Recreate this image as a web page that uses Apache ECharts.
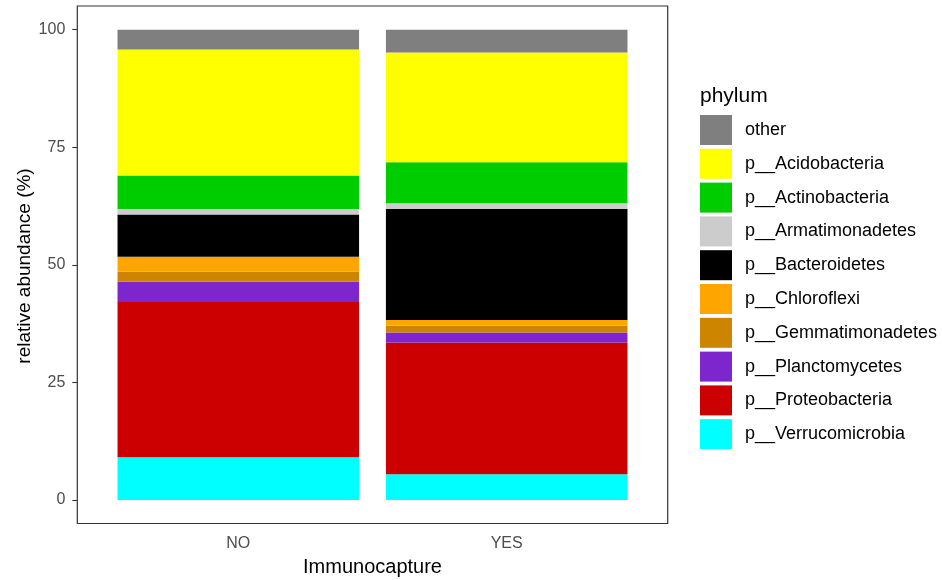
<!DOCTYPE html>
<html>
<head>
<meta charset="utf-8">
<script src="https://cdn.jsdelivr.net/npm/echarts@6/dist/echarts.min.js"></script>
<style>
  html, body { margin: 0; padding: 0; background: #fff; }
  #chart { width: 942px; height: 580px; }
</style>
</head>
<body>
<div id="chart"></div>
<script>
// categories on the x axis
const groups = ["NO", "YES"];

// phyla, bottom of the stack first
const phyla = [
  "p__Verrucomicrobia",
  "p__Proteobacteria",
  "p__Planctomycetes",
  "p__Gemmatimonadetes",
  "p__Chloroflexi",
  "p__Bacteroidetes",
  "p__Armatimonadetes",
  "p__Actinobacteria",
  "p__Acidobacteria",
  "other"
];

// relative abundance (%) per phylum, same order as phyla
const valuesNO = [9.1, 33.0, 4.3, 2.2, 3.1, 9.0, 1.2, 7.1, 26.8, 4.2];
const valuesYES = [5.5, 28.0, 2.1, 1.5, 1.2, 23.6, 1.2, 8.7, 23.35, 4.85];

const phylumColors = {
  "other": "#7F7F7F",
  "p__Acidobacteria": "#FFFF00",
  "p__Actinobacteria": "#00CD00",
  "p__Armatimonadetes": "#CCCCCC",
  "p__Bacteroidetes": "#000000",
  "p__Chloroflexi": "#FFA500",
  "p__Gemmatimonadetes": "#CD8500",
  "p__Planctomycetes": "#7D26CD",
  "p__Proteobacteria": "#CD0000",
  "p__Verrucomicrobia": "#00FFFF"
};

const font = "Liberation Sans, Arial, sans-serif";

const chart = echarts.init(document.getElementById("chart"));

const series = phyla.map((name, i) => ({
  name: name,
  type: "bar",
  stack: "total",
  barWidth: "90%",
  xAxisIndex: 0,
  yAxisIndex: 0,
  itemStyle: { color: phylumColors[name] },
  emphasis: { disabled: true },
  data: [valuesNO[i], valuesYES[i]]
}));

chart.setOption({
  animation: false,
  textStyle: { fontFamily: font },
  grid: [
    // plotting area for the bars
    { left: 104.1, top: 29.7, width: 536.8, height: 470.3 },
    // panel border
    {
      left: 77.3, top: 6, width: 590.4, height: 517.5,
      show: true, borderColor: "#333", borderWidth: 1.2,
      backgroundColor: "transparent"
    }
  ],
  xAxis: [
    {
      type: "category",
      gridIndex: 0,
      data: groups,
      offset: 23.5,
      axisLine: { show: false },
      axisTick: { alignWithLabel: true, length: 5, lineStyle: { color: "#333", width: 1.1 } },
      axisLabel: { color: "#4D4D4D", fontSize: 16, margin: 12, fontFamily: font }
    },
    { type: "value", gridIndex: 1, show: false }
  ],
  yAxis: [
    {
      type: "value",
      gridIndex: 0,
      min: 0,
      max: 100,
      interval: 25,
      offset: 26.8,
      axisLine: { show: false },
      splitLine: { show: false },
      axisTick: { show: true, length: 5, lineStyle: { color: "#333", width: 1.1 } },
      axisLabel: { color: "#4D4D4D", fontSize: 16, margin: 12, fontFamily: font }
    },
    { type: "value", gridIndex: 1, show: false }
  ],
  legend: {
    orient: "vertical",
    left: 700,
    top: 115,
    padding: 0,
    itemWidth: 32,
    itemHeight: 30,
    itemGap: 3.8,
    icon: "rect",
    selectedMode: false,
    data: phyla.slice().reverse(),
    textStyle: { color: "#000", fontSize: 18, fontFamily: font, padding: [0, 0, 0, 8] }
  },
  graphic: [
    {
      type: "text",
      x: 25, y: 266,
      rotation: Math.PI / 2,
      style: {
        text: "relative abundance (%)",
        fontSize: 19, fontFamily: font, fill: "#000",
        textAlign: "center", textVerticalAlign: "middle"
      }
    },
    {
      type: "text",
      x: 372.5, y: 567,
      style: {
        text: "Immunocapture",
        fontSize: 20, fontFamily: font, fill: "#000",
        textAlign: "center", textVerticalAlign: "middle"
      }
    },
    {
      type: "text",
      x: 700, y: 96,
      style: {
        text: "phylum",
        fontSize: 21, fontFamily: font, fill: "#000",
        textAlign: "left", textVerticalAlign: "middle"
      }
    }
  ],
  series: series
});
</script>
</body>
</html>
